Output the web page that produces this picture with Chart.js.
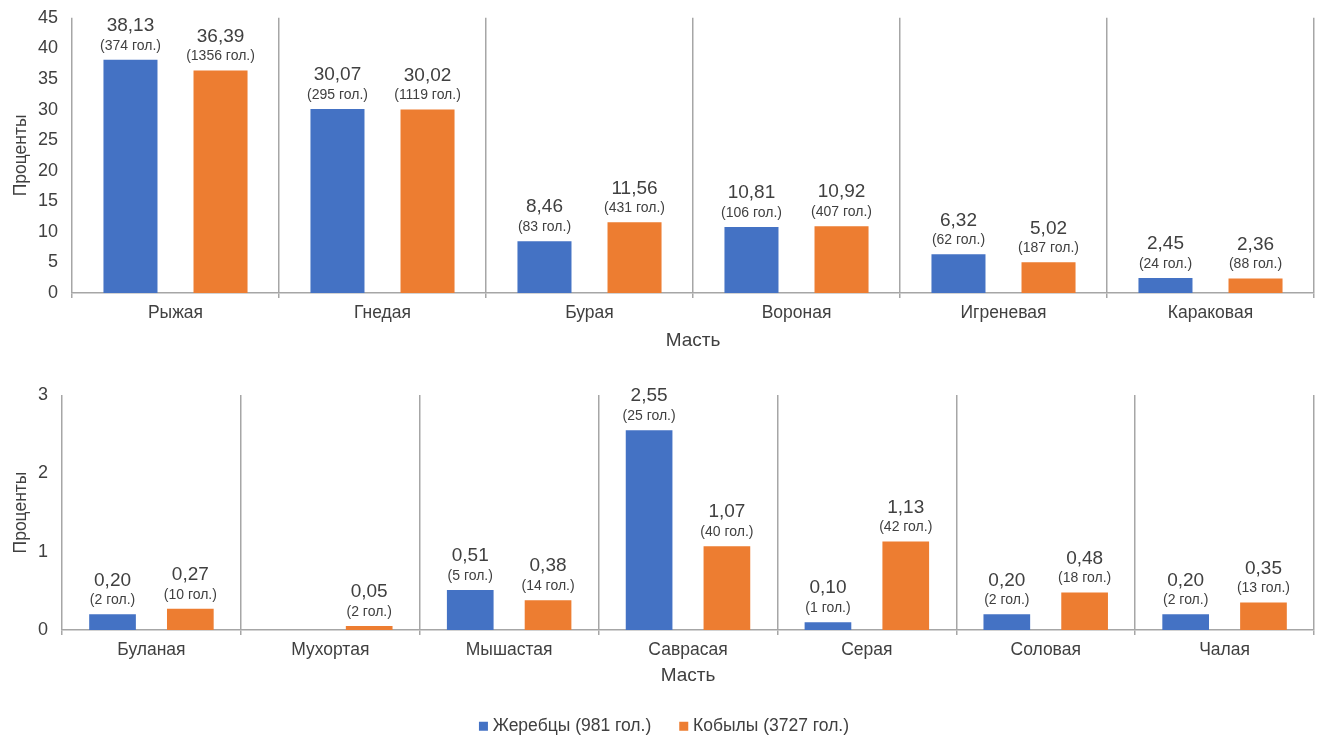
<!DOCTYPE html>
<html lang="ru">
<head>
<meta charset="utf-8">
<title>Масть лошадей</title>
<script src="https://cdn.jsdelivr.net/npm/chart.js@4.4.1/dist/chart.umd.min.js"></script>
<style>
  html, body { margin: 0; padding: 0; background: #ffffff; overflow: hidden; }
  #top { position: absolute; left: 0; top: -7px; }
  #bottom { position: absolute; left: 0; top: 370px; }
</style>
</head>
<body>
<canvas id="top" width="1326" height="367"></canvas>
<canvas id="bottom" width="1326" height="375"></canvas>
<script>
// Main coat colours
const mainColours = ['Рыжая', 'Гнедая', 'Бурая', 'Вороная', 'Игреневая', 'Караковая'];
const mainStallions = [38.13, 30.07, 8.46, 10.81, 6.32, 2.45];
const mainStallionHeads = [374, 295, 83, 106, 62, 24];
const mainMares = [36.39, 30.02, 11.56, 10.92, 5.02, 2.36];
const mainMareHeads = [1356, 1119, 431, 407, 187, 88];
const mainTicks = [0, 5, 10, 15, 20, 25, 30, 35, 40, 45];

// Rare coat colours
const rareColours = ['Буланая', 'Мухортая', 'Мышастая', 'Саврасая', 'Серая', 'Соловая', 'Чалая'];
const rareStallions = [0.20, null, 0.51, 2.55, 0.10, 0.20, 0.20];
const rareStallionHeads = [2, null, 5, 25, 1, 2, 2];
const rareMares = [0.27, 0.05, 0.38, 1.07, 1.13, 0.48, 0.35];
const rareMareHeads = [10, 2, 14, 40, 42, 18, 13];
const rareTicks = [0, 1, 2, 3];

const seriesNames = ['Жеребцы (981 гол.)', 'Кобылы (3727 гол.)'];

const FONT = '"Liberation Sans", Arial, sans-serif';
const TEXT = '#404040';
const GRID = '#a6a6a6';
const BLUE = '#4472c4';
const ORANGE = '#ed7d31';

// Two-line label above each bar: percentage and head count
const barLabels = {
  id: 'barLabels',
  afterDatasetsDraw(chart) {
    const ctx = chart.ctx;
    ctx.save();
    ctx.fillStyle = TEXT;
    ctx.textAlign = 'center';
    ctx.textBaseline = 'middle';
    chart.data.datasets.forEach((ds, di) => {
      const meta = chart.getDatasetMeta(di);
      meta.data.forEach((bar, i) => {
        const v = ds.data[i];
        if (v === null || v === undefined) return;
        ctx.font = '19px ' + FONT;
        ctx.fillText(v.toFixed(2).replace('.', ','), bar.x, bar.y - 34);
        ctx.font = '14px ' + FONT;
        ctx.fillText('(' + ds.heads[i] + ' гол.)', bar.x, bar.y - 14);
      });
    });
    ctx.restore();
  }
};

function makeChart(id, labels, s1, h1, s2, h2, ticks, cfg) {
  const yMax = ticks[ticks.length - 1];
  const step = ticks[1] - ticks[0];
  return new Chart(document.getElementById(id), {
    type: 'bar',
    data: {
      labels: labels,
      datasets: [
        { label: seriesNames[0], data: s1, heads: h1, backgroundColor: BLUE,
          categoryPercentage: 0.87, barPercentage: 0.6 },
        { label: seriesNames[1], data: s2, heads: h2, backgroundColor: ORANGE,
          categoryPercentage: 0.87, barPercentage: 0.6 }
      ]
    },
    options: {
      responsive: false,
      animation: false,
      layout: { padding: { top: cfg.top, right: 12, bottom: 0, left: cfg.left } },
      plugins: {
        tooltip: { enabled: false },
        legend: cfg.legend ? {
          display: true,
          position: 'bottom',
          labels: {
            // small square marker sitting close to its text
            usePointStyle: true, pointStyle: 'rect',
            boxWidth: 1, boxHeight: 9, padding: 32,
            color: TEXT, font: { family: FONT, size: 17.5 }
          }
        } : { display: false }
      },
      scales: {
        x: {
          grid: { offset: true, color: GRID, lineWidth: 1.5, tickLength: 5, drawTicks: true },
          border: { display: true, color: GRID, width: 1.5 },
          ticks: { color: TEXT, font: { family: FONT, size: 17.5 }, padding: 5, maxRotation: 0 },
          title: { display: true, text: 'Масть', color: TEXT,
                   font: { family: FONT, size: 19, lineHeight: cfg.xTitleLH },
                   padding: { top: 0, bottom: cfg.xTitlePad } },
          afterFit(scale) { scale.height = cfg.xHeight; }
        },
        y: {
          min: 0, max: yMax,
          grid: { display: false, drawTicks: false },
          border: { display: false },
          ticks: { stepSize: step, color: TEXT, font: { family: FONT, size: 18 }, padding: 14 },
          title: { display: true, text: 'Проценты', color: TEXT,
                   font: { family: FONT, size: 17.5 }, padding: { top: 11 - cfg.left, bottom: 0 } },
          afterFit(scale) { scale.width = cfg.yWidth - cfg.left; }
        }
      }
    },
    plugins: [barLabels]
  });
}

makeChart('top', mainColours, mainStallions, mainStallionHeads, mainMares, mainMareHeads, mainTicks,
  { top: 24, left: 0, xHeight: 67, xTitlePad: 8, xTitleLH: 1.2, yWidth: 72, legend: false });
makeChart('bottom', rareColours, rareStallions, rareStallionHeads, rareMares, rareMareHeads, rareTicks,
  { top: 25, left: 18, xHeight: 55.5, xTitlePad: 0, xTitleLH: 1.0, yWidth: 62, legend: true });
</script>
</body>
</html>
